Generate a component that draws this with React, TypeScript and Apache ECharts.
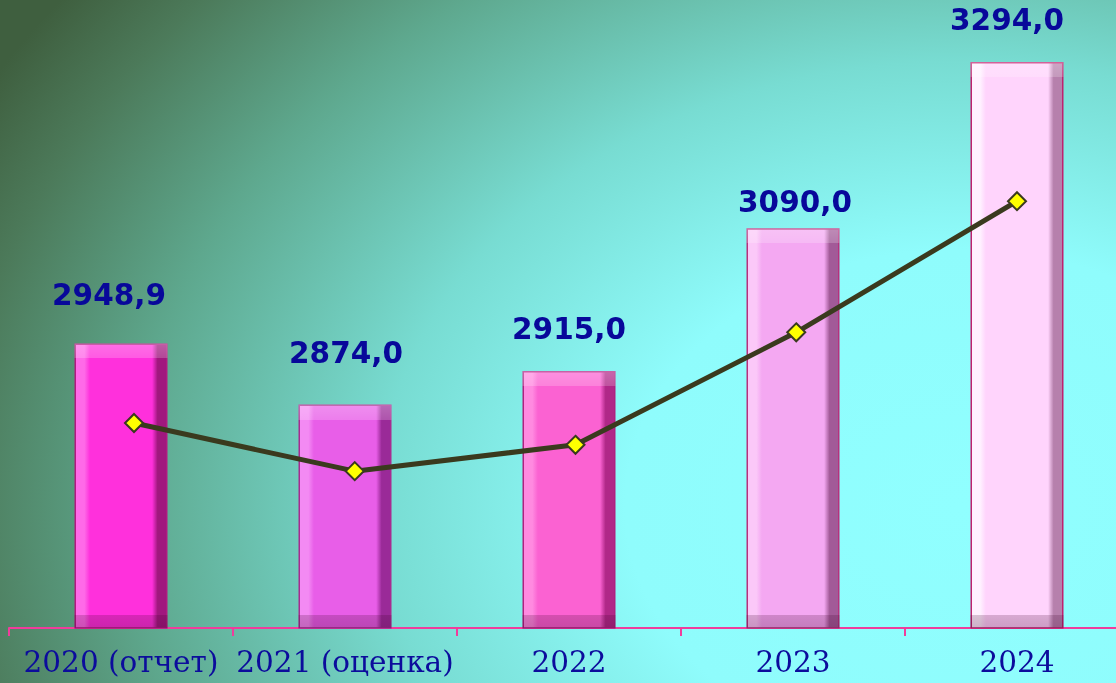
import React, { useEffect, useRef } from "react";
import * as echarts from "echarts";

const categories = ["2020 (отчет)", "2021 (оценка)", "2022", "2023", "2024"];
const values = [2948.9, 2874.0, 2915.0, 3090.0, 3294.0];
const valueLabels = ["2948,9", "2874,0", "2915,0", "3090,0", "3294,0"];

// bar colours: [light edge, main, dark edge, border]
const barColors = [
  ["#ff6ae8", "#ff30dc", "#a0187e", "#b01a80"],
  ["#f38af3", "#e85ee8", "#9a2a98", "#a82a90"],
  ["#ff8ae0", "#fb62d2", "#b02888", "#b02080"],
  ["#fbc8f8", "#f4a8f2", "#a25a98", "#b8307c"],
  ["#fff0ff", "#ffd4fc", "#b680ac", "#c0206e"],
];
// label nudges (style only)
const labelShiftX = [-12, 1, 0, 2, -10];
const labelRise = [46, 49, 40, 24, 39];

export default function App() {
  const ref = useRef<HTMLDivElement>(null);
  useEffect(() => {
    if (!ref.current) return;
    const chart = echarts.init(ref.current, null, { renderer: "svg" });
    const barData = values.map((v, i) => ({
      value: v,
      itemStyle: {
        color: new echarts.graphic.LinearGradient(0, 0, 1, 0, [
          { offset: 0, color: barColors[i][0] },
          { offset: 0.1, color: barColors[i][0] },
          { offset: 0.16, color: barColors[i][1] },
          { offset: 0.84, color: barColors[i][1] },
          { offset: 0.9, color: barColors[i][2] },
          { offset: 1, color: barColors[i][2] },
        ]),
        borderColor: barColors[i][3],
        borderWidth: 1.5,
      },
      label: {
        distance: labelRise[i] - 12.5,
        offset: [labelShiftX[i], 0],
        formatter: valueLabels[i],
      },
    }));
    const option: any = {
      animation: false,
      grid: [
        { left: 9, right: 1, top: 0, bottom: 55 },
        { left: 134, right: 113, top: 0, bottom: 55 },
      ],
      xAxis: [
        {
          type: "category",
          gridIndex: 0,
          data: categories,
          axisLine: { show: true, lineStyle: { color: "#f03c9c", width: 2 } },
          axisTick: { show: true, length: 8, lineStyle: { color: "#f03c9c", width: 2 } },
          axisLabel: {
            interval: 0,
            color: "#0c0c9c",
            fontFamily: "DejaVu Serif",
            fontSize: 29.5,
            margin: 19,
          },
        },
        {
          type: "category",
          gridIndex: 1,
          data: categories,
          boundaryGap: false,
          show: false,
        },
      ],
      yAxis: [
        { type: "value", gridIndex: 0, min: 2600, max: 3370, show: false },
        { type: "value", gridIndex: 1, min: 2630, max: 3607, show: false },
      ],
      series: [
        {
          type: "bar",
          xAxisIndex: 0,
          yAxisIndex: 0,
          barWidth: 93,
          barGap: "-100%",
          data: barData,
          label: {
            show: true,
            position: "top",
            color: "#08089a",
            fontFamily: "DejaVu Sans",
            fontWeight: "bold",
            fontSize: 29.5,
          },
        },
        {
          type: "line",
          xAxisIndex: 1,
          yAxisIndex: 1,
          data: values,
          z: 5,
          symbol: "diamond",
          symbolSize: 18,
          lineStyle: { color: "#3a3a1e", width: 5 },
          itemStyle: { color: "#ffff00", borderColor: "#3a3a1e", borderWidth: 2 },
        },
      ],
    };
    chart.setOption(option);
    // bevel overlay: light top band, dark bottom band, sized in pixels
    const base = chart.convertToPixel({ yAxisIndex: 0 }, 2600) as number;
    const bevelData = values.map((v) => {
      const top = chart.convertToPixel({ yAxisIndex: 0 }, v) as number;
      const h = Math.max(1, base - top);
      const t = 15 / h;
      const b = 1 - 13 / h;
      return {
        value: v,
        itemStyle: {
          color: new echarts.graphic.LinearGradient(0, 0, 0, 1, [
            { offset: 0, color: "rgba(255,255,255,0.30)" },
            { offset: t, color: "rgba(255,255,255,0.20)" },
            { offset: t + 0.0001, color: "rgba(255,255,255,0)" },
            { offset: b - 0.0001, color: "rgba(0,0,0,0)" },
            { offset: b, color: "rgba(60,0,40,0.20)" },
            { offset: 1, color: "rgba(60,0,40,0.26)" },
          ]),
        },
      };
    });
    option.series.splice(1, 0, {
      type: "bar",
      xAxisIndex: 0,
      yAxisIndex: 0,
      barWidth: 93,
      barGap: "-100%",
      silent: true,
      data: bevelData,
      label: { show: false },
    });
    chart.setOption(option, true);
    return () => chart.dispose();
  }, []);
  return (
    <div
      style={{
        position: "fixed",
        left: 0,
        top: 0,
        width: 1116,
        height: 683,
        overflow: "hidden",
        background:
          "radial-gradient(ellipse 100% 125% at 86% 74%, #90ffff 0%, #8ffcfc 30%, #78dcd2 52%, #5ea88e 74%, #4c7a5a 90%, #3f5f3f 100%)",
      }}
    >
      <div ref={ref} style={{ width: 1130, height: 683 }} />
    </div>
  );
}
